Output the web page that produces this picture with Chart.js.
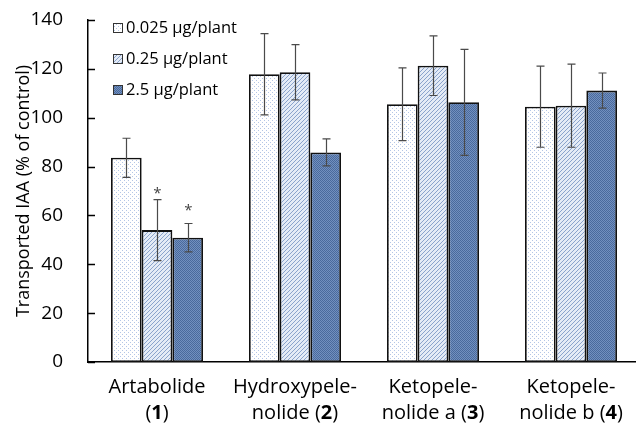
<!DOCTYPE html>
<html>
<head>
<meta charset="utf-8">
<script src="https://cdn.jsdelivr.net/npm/chart.js@4.4.0/dist/chart.umd.min.js"></script>
<style>
  html, body { margin: 0; padding: 0; background: #fff; overflow: hidden; }
  canvas { display: block; }
</style>
</head>
<body>
<canvas id="iaaChart" width="642" height="423"></canvas>
<script>
// data
const categories = ['Artabolide', 'Hydroxypelenolide', 'Ketopelenolide a', 'Ketopelenolide b'];
const labelLine1 = ['Artabolide', 'Hydroxypele-', 'Ketopele-', 'Ketopele-'];
const labelLine2 = ['', 'nolide ', 'nolide a ', 'nolide b '];
const compoundNo = ['1', '2', '3', '4'];

const doseLabels = ['0.025 \u00b5g/plant', '0.25 \u00b5g/plant', '2.5 \u00b5g/plant'];
const dose1 = [83.6, 117.8, 105.5, 104.5];
const dose2 = [54.0, 118.6, 121.3, 104.9];
const dose3 = [50.9, 85.8, 106.3, 111.1];
const err1 = [8.0, 16.6, 14.9, 16.6];
const err2 = [12.5, 11.3, 12.2, 17.0];
const err3 = [5.8, 5.5, 21.7, 7.2];
// where the significance asterisks sit (value units), null = none
const star1 = [null, null, null, null];
const star2 = [70.4, null, null, null];
const star3 = [63.4, null, null, null];
const yTicks = [0, 20, 40, 60, 80, 100, 120, 140];

const FONT = "'Open Sans', 'Noto Sans', sans-serif";

function makePattern(kind) {
  const c = document.createElement('canvas');
  const g = c.getContext('2d');
  if (kind === 'dots') {
    c.width = 4; c.height = 4;
    g.fillStyle = '#ffffff'; g.fillRect(0, 0, 4, 4);
    g.fillStyle = '#b4c6e6';
    g.fillRect(0, 0, 1, 1);
    g.fillRect(2, 2, 1, 1);
  } else if (kind === 'hatch') {
    c.width = 4; c.height = 4;
    g.fillStyle = '#e4ebf6'; g.fillRect(0, 0, 4, 4);
    g.fillStyle = '#8aa3cc';
    for (let i = 0; i < 4; i++) g.fillRect(i, 3 - i, 1, 1);
  } else {
    c.width = 2; c.height = 2;
    g.fillStyle = '#7290bf'; g.fillRect(0, 0, 2, 2);
    g.fillStyle = '#4a6a9c';
    g.fillRect(0, 0, 1, 1);
    g.fillRect(1, 1, 1, 1);
  }
  return g.createPattern(c, 'repeat');
}

const ctx = document.getElementById('iaaChart').getContext('2d');
const fills = [makePattern('dots'), makePattern('hatch'), makePattern('grid')];
const errs = [err1, err2, err3];
const stars = [star1, star2, star3];

const extrasPlugin = {
  id: 'extras',
  afterDatasetsDraw(chart) {
    const c = chart.ctx;
    const y = chart.scales.y;
    const x = chart.scales.x;
    const area = chart.chartArea;
    c.save();
    // inward y ticks
    c.strokeStyle = '#000';
    c.lineWidth = 1.5;
    yTicks.forEach(v => {
      const py = Math.round(y.getPixelForValue(v)) + 0.5;
      c.beginPath();
      c.moveTo(area.left, py);
      c.lineTo(area.left + 7, py);
      c.stroke();
    });
    // error bars + asterisks
    chart.data.datasets.forEach((ds, di) => {
      const meta = chart.getDatasetMeta(di);
      meta.data.forEach((bar, i) => {
        const v = ds.data[i];
        const e = errs[di][i];
        const top = y.getPixelForValue(v + e);
        const bot = y.getPixelForValue(v - e);
        const bx = Math.round(bar.x) + 0.5;
        c.strokeStyle = '#4a4a4a';
        c.lineWidth = 1.2;
        c.beginPath();
        c.moveTo(bx, top); c.lineTo(bx, bot);
        c.moveTo(bx - 4, top); c.lineTo(bx + 4, top);
        c.moveTo(bx - 4, bot); c.lineTo(bx + 4, bot);
        c.stroke();
        const s = stars[di][i];
        if (s !== null) {
          c.fillStyle = '#444';
          c.font = '15px ' + FONT;
          c.textAlign = 'center';
          c.textBaseline = 'alphabetic';
          c.fillText('*', bx, y.getPixelForValue(s) + 8);
        }
      });
    });
    // legend inside plot
    chart.data.datasets.forEach((ds, di) => {
      const cy = 28 + di * 31;
      c.fillStyle = ds.backgroundColor;
      c.fillRect(113, cy - 5, 10, 10);
      c.strokeStyle = '#333';
      c.lineWidth = 1;
      c.strokeRect(113.5, cy - 4.5, 9, 9);
      c.fillStyle = '#000';
      c.font = '16.5px ' + FONT;
      c.textAlign = 'left';
      c.textBaseline = 'middle';
      c.fillText(ds.label, 126, cy);
    });
    // category labels with bold compound numbers
    c.fillStyle = '#000';
    c.textBaseline = 'middle';
    categories.forEach((cat, i) => {
      const cx = x.getPixelForValue(i);
      const reg = '20px ' + FONT;
      const bold = 'bold 20px ' + FONT;
      c.font = reg;
      c.textAlign = 'center';
      const l2pre = labelLine2[i] + '(';
      c.fillText(labelLine1[i], cx, 387);
      c.textAlign = 'left';
      const wPre = c.measureText(l2pre).width;
      const wClose = c.measureText(')').width;
      c.font = bold;
      const wNo = c.measureText(compoundNo[i]).width;
      const sx = cx - (wPre + wNo + wClose) / 2;
      c.font = reg;
      c.fillText(l2pre, sx, 413);
      c.font = bold;
      c.fillText(compoundNo[i], sx + wPre, 413);
      c.font = reg;
      c.fillText(')', sx + wPre + wNo, 413);
    });
    c.restore();
  }
};

new Chart(ctx, {
  type: 'bar',
  data: {
    labels: categories,
    datasets: [
      { label: doseLabels[0], data: dose1, backgroundColor: fills[0] },
      { label: doseLabels[1], data: dose2, backgroundColor: fills[1] },
      { label: doseLabels[2], data: dose3, backgroundColor: fills[2] }
    ]
  },
  options: {
    responsive: false,
    animation: false,
    devicePixelRatio: 1,
    layout: { padding: { top: 20, right: 2, bottom: 61, left: 0 } },
    datasets: {
      bar: {
        borderColor: '#111',
        borderWidth: 1.8,
        borderSkipped: false,
        categoryPercentage: 0.667,
        barPercentage: 1.0
      }
    },
    plugins: {
      legend: { display: false },
      tooltip: { enabled: false }
    },
    scales: {
      x: {
        grid: { display: false, drawTicks: false },
        border: { display: true, color: '#000', width: 1.5 },
        ticks: { display: false },
        afterFit(scale) { scale.height = 0; scale.paddingLeft = 0; scale.paddingRight = 0; }
      },
      y: {
        min: 0,
        max: 140,
        afterFit(scale) { scale.width = 88; scale.paddingTop = 0; scale.paddingBottom = 0; },
        grid: { display: false, drawTicks: false },
        border: { display: true, color: '#000', width: 1.5 },
        ticks: {
          stepSize: 20,
          padding: 25,
          color: '#000',
          font: { family: FONT, size: 19 }
        },
        title: {
          display: true,
          text: 'Transported IAA (% of control)',
          color: '#000',
          font: { family: FONT, size: 18 },
          padding: { top: 13, bottom: 0 }
        }
      }
    }
  },
  plugins: [extrasPlugin]
});
</script>
</body>
</html>
